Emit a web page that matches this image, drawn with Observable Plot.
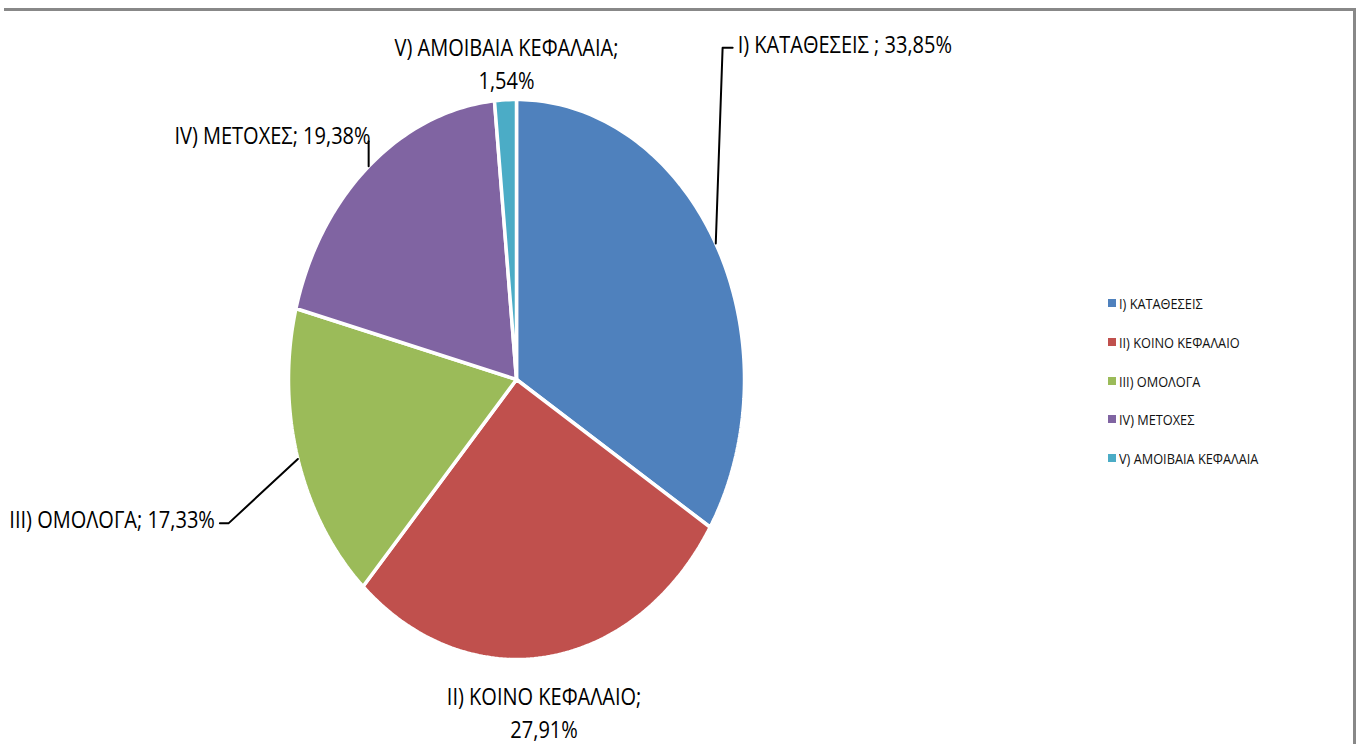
<!DOCTYPE html>
<html>
<head>
<meta charset="utf-8">
<script src="https://cdn.jsdelivr.net/npm/d3@7"></script>
<script src="https://cdn.jsdelivr.net/npm/@observablehq/plot@0.6"></script>
<style>
  html, body { margin: 0; padding: 0; background: #fff; }
  #wrap { position: relative; width: 1358px; height: 744px; overflow: hidden; background: #fff; }
  #chart { position: absolute; left: 0; top: 0; }
  #frame { position: absolute; left: 4px; top: 8px; width: 1352px; height: 800px; box-sizing: border-box;
           border-top: 3px solid #888; border-right: 3px solid #888; pointer-events: none; }
  #legend { position: absolute; left: 0; top: 0; font-family: "Open Sans", sans-serif; font-size: 15px; color: #111; }
  .lg-row { position: absolute; display: flex; align-items: center; height: 20px; white-space: nowrap; }
  .lg-sw { width: 8px; height: 8px; margin-right: 3px; flex: none; }
  .lg-tx { display: inline-block; transform: scaleX(0.85); transform-origin: 0 50%; }
</style>
</head>
<body>
<div id="wrap">
  <div id="chart"></div>
  <div id="legend"></div>
  <div id="frame"></div>
</div>
<script>
// ---- data ----
const categories = ["I) ΚΑΤΑΘΕΣΕΙΣ", "II) ΚΟΙΝΟ ΚΕΦΑΛΑΙΟ", "III) ΟΜΟΛΟΓΑ", "IV) ΜΕΤΟΧΕΣ", "V) ΑΜΟΙΒΑΙΑ ΚΕΦΑΛΑΙΑ"];
const shares = [33.85, 27.91, 17.33, 19.38, 1.54];
const labelSeparators = [" ; ", ";\n", "; ", "; ", ";\n"];

// ---- styles / layout ----
const sliceColors = ["#4F81BD", "#C0504D", "#9BBB59", "#8064A2", "#4BACC6"];
const cx = 516, cy = 379, rx = 228, ry = 280;
const labelFont = "'Open Sans', sans-serif";
const textSqueeze = 0.87;
// label layout in pie data space (unit circle stretched by the x/y scales)
const labelLayout = [
  {lx: 0.970, ly: 1.203, anchor: "start", leader: [[0.904, 1.185], [0.948, 1.185]]},
  {lx: 0.121, ly: -1.183, anchor: "middle", leader: null},
  {lx: -1.323, ly: -0.492, anchor: "end", leader: [[-1.262, -0.513], [-1.301, -0.513]]},
  {lx: -0.640, ly: 0.880, anchor: "end", leader: "vertical", top: 0.851},
  {lx: -0.044, ly: 1.135, anchor: "middle", leader: null}
];

// ---- geometry from data ----
const arcs = d3.pie().sort(null).value(d => d)(shares);
const slicePts = [];
arcs.forEach((a, i) => {
  const cat = categories[i];
  const n = Math.max(2, Math.ceil((a.endAngle - a.startAngle) / (2 * Math.PI) * 360));
  slicePts.push({cat, x: 0, y: 0});
  for (let k = 0; k <= n; k++) {
    const t = a.startAngle + (a.endAngle - a.startAngle) * k / n;
    slicePts.push({cat, x: Math.sin(t), y: Math.cos(t)});
  }
  slicePts.push({cat, x: 0, y: 0});
});

const leaderPts = [];
arcs.forEach((a, i) => {
  const L = labelLayout[i];
  if (!L.leader) return;
  const m = (a.startAngle + a.endAngle) / 2;
  const ex = Math.sin(m), ey = Math.cos(m);
  const cat = categories[i];
  leaderPts.push({cat, x: ex, y: ey});
  if (L.leader === "vertical") {
    leaderPts.push({cat, x: ex, y: L.top});
  } else {
    L.leader.forEach(p => leaderPts.push({cat, x: p[0], y: p[1]}));
  }
});

const fmt = v => v.toFixed(2).replace(".", ",") + "%";
const labels = categories.map((c, i) => ({
  text: c + labelSeparators[i] + fmt(shares[i]),
  x: labelLayout[i].lx, y: labelLayout[i].ly, anchor: labelLayout[i].anchor
}));

const textMarks = ["start", "middle", "end"].map(anchor =>
  Plot.text(labels.filter(d => d.anchor === anchor), {
    x: "x", y: "y", text: "text", textAnchor: anchor, lineAnchor: "middle",
    lineHeight: 1.45, fontSize: 23, fontFamily: labelFont, fill: "#000"
  })
);

const plot = Plot.plot({
  width: 1358,
  height: 744,
  x: {domain: [-1, 1], range: [cx - rx, cx + rx], axis: null},
  y: {domain: [-1, 1], range: [cy + ry, cy - ry], axis: null},
  color: {domain: categories, range: sliceColors},
  style: {background: "transparent"},
  marks: [
    Plot.line(slicePts, {x: "x", y: "y", z: "cat", fill: "cat", stroke: "white", strokeWidth: 3.5, strokeLinejoin: "miter"}),
    Plot.line(leaderPts, {x: "x", y: "y", z: "cat", stroke: "#000", strokeWidth: 2}),
    ...textMarks
  ]
});

// squeeze label glyphs horizontally (narrow, Calibri-like look) around their anchors
d3.select(plot).selectAll("text").each(function() {
  const t = this.getAttribute("transform");
  if (t && t.includes("translate")) {
    this.setAttribute("transform", t + ` scale(${textSqueeze},1)`);
  } else {
    const x = +(this.getAttribute("x") || 0), y = +(this.getAttribute("y") || 0);
    this.setAttribute("x", 0); this.setAttribute("y", 0);
    this.setAttribute("transform", `translate(${x},${y}) scale(${textSqueeze},1)` + (t ? " " + t : ""));
  }
});
document.getElementById("chart").appendChild(plot);

// ---- legend ----
const legend = document.getElementById("legend");
categories.forEach((c, i) => {
  const row = document.createElement("div");
  row.className = "lg-row";
  row.style.left = "1108px";
  row.style.top = (302.7 + 38.9 * i - 10) + "px";
  const sw = document.createElement("span");
  sw.className = "lg-sw";
  sw.style.background = sliceColors[i];
  const tx = document.createElement("span");
  tx.className = "lg-tx";
  tx.textContent = c;
  row.appendChild(sw);
  row.appendChild(tx);
  legend.appendChild(row);
});
</script>
</body>
</html>
